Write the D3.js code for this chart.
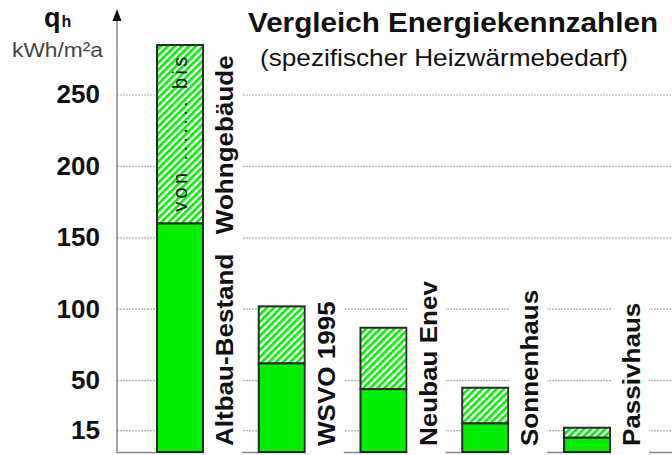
<!DOCTYPE html>
<html>
<head>
<meta charset="utf-8">
<script src="https://cdn.jsdelivr.net/npm/d3@7"></script>
<style>
  html, body { margin: 0; padding: 0; background: #fff; }
  svg { display: block; font-family: Arial, "Liberation Sans", Helvetica, sans-serif; }
</style>
</head>
<body>
<svg id="chart" width="672" height="455"></svg>
<script>
// Building categories (two spaces separate a two-part label)
const categories = ["Altbau-Bestand  Wohngebäude", "WSVO 1995", "Neubau Enev", "Sonnenhaus", "Passivhaus"];
// Lower bound of the specific heating demand, kWh/m²a (solid part)
const lowValues = [160, 62, 44, 20, 10];
// Upper bound of the specific heating demand, kWh/m²a (top of hatched part)
const highValues = [285, 102, 87, 45, 17];
// Y axis tick values
const yTicks = [15, 50, 100, 150, 200, 250];

const W = 672, H = 455;
const axisX = 117, baseY = 452;
const green = "#00ee00", edge = "#2a2a2a";

const svg = d3.select("#chart");

const y = d3.scaleLinear().domain([0, 250]).range([baseY, 95]);
const x = d3.scaleBand().domain(categories).range([157, 610]).paddingInner(0.5475).paddingOuter(0);

// hatch pattern for the "von ... bis" range
const defs = svg.append("defs");
const pat = defs.append("pattern")
  .attr("id", "hatch")
  .attr("patternUnits", "userSpaceOnUse")
  .attr("width", 5).attr("height", 5)
  .attr("patternTransform", "rotate(45)");
pat.append("rect").attr("width", 5).attr("height", 5).attr("fill", "#fff");
pat.append("rect").attr("width", 2.6).attr("height", 5).attr("fill", green);

// dashed gridlines
svg.append("g").selectAll("line").data(yTicks).join("line")
  .attr("x1", axisX).attr("x2", W)
  .attr("y1", d => y(d)).attr("y2", d => y(d))
  .attr("stroke", "#b0b0b0").attr("stroke-width", 1.2)
  .attr("stroke-dasharray", "2,1");

// baseline
svg.append("line")
  .attr("x1", axisX).attr("x2", W).attr("y1", baseY + 0.5).attr("y2", baseY + 0.5)
  .attr("stroke", "#888").attr("stroke-width", 1.5);

// y axis tick labels
const yAxis = d3.axisLeft(y).tickValues(yTicks).tickSize(0).tickPadding(17).tickFormat(d3.format("d"));
const ya = svg.append("g").attr("transform", `translate(${axisX},0)`).call(yAxis);
ya.select(".domain").remove();
ya.selectAll("text")
  .attr("font-family", "Arial, 'Liberation Sans', sans-serif")
  .attr("font-size", 26).attr("font-weight", "bold").attr("fill", "#111")
  .attr("dy", "0.3em");

// y axis line with arrow
svg.append("line")
  .attr("x1", axisX).attr("x2", axisX).attr("y1", 16).attr("y2", baseY + 1)
  .attr("stroke", "#888").attr("stroke-width", 1.5);
svg.append("path")
  .attr("d", `M${axisX},9 L${axisX - 4.5},21 L${axisX + 4.5},21 Z`)
  .attr("fill", "#111");

// unit label
const q = svg.append("text").attr("x", 44).attr("y", 27).attr("font-weight", "bold").attr("fill", "#111");
q.append("tspan").attr("font-size", 27).text("q");
q.append("tspan").attr("font-size", 16).attr("dx", 1).text("h");
svg.append("text").attr("x", 12).attr("y", 57)
  .attr("font-size", 21).attr("fill", "#444")
  .attr("textLength", 91).attr("lengthAdjust", "spacingAndGlyphs")
  .text("kWh/m²a");

// title
svg.append("text").attr("x", 248).attr("y", 32)
  .attr("font-size", 27).attr("font-weight", "bold").attr("fill", "#111")
  .attr("textLength", 410).attr("lengthAdjust", "spacingAndGlyphs")
  .text("Vergleich Energiekennzahlen");
svg.append("text").attr("x", 260).attr("y", 66)
  .attr("font-size", 24).attr("fill", "#111")
  .attr("textLength", 368).attr("lengthAdjust", "spacingAndGlyphs")
  .text("(spezifischer Heizwärmebedarf)");

// bars
const bars = svg.append("g").selectAll("g").data(categories).join("g");
bars.append("rect")
  .attr("x", d => x(d)).attr("width", x.bandwidth())
  .attr("y", (d, i) => y(highValues[i]))
  .attr("height", (d, i) => y(lowValues[i]) - y(highValues[i]))
  .attr("fill", "url(#hatch)").attr("stroke", edge).attr("stroke-width", 2);
bars.append("rect")
  .attr("x", d => x(d)).attr("width", x.bandwidth())
  .attr("y", (d, i) => y(lowValues[i]))
  .attr("height", (d, i) => y(0) - y(lowValues[i]))
  .attr("fill", green).attr("stroke", edge).attr("stroke-width", 2);

// rotated category labels on white strips (glyphs slightly stretched along the text)
const labels = svg.append("g").selectAll("g").data(categories).join("g")
  .attr("transform", d => `translate(${x(d) + x.bandwidth() + 30},${baseY - 6}) rotate(-90) scale(1.085,1)`);
labels.append("rect").attr("fill", "#fff");
const ltext = labels.append("text")
  .attr("font-size", 24).attr("font-weight", "bold").attr("fill", "#111");
ltext.each(function (d) {
  const parts = d.split(/\s{2,}/);
  const t = d3.select(this);
  parts.forEach((p, k) => {
    t.append("tspan").attr("dx", k ? 18 : 0).text(p);
  });
});
labels.each(function () {
  const g = d3.select(this);
  const bb = g.select("text").node().getBBox();
  g.select("rect")
    .attr("x", -8).attr("width", bb.width + 12)
    .attr("y", -29).attr("height", 38);
});

// range annotation inside the first hatched bar
const c0 = categories[0];
const midY = (y(highValues[0]) + y(lowValues[0])) / 2;
svg.append("text")
  .attr("transform", `translate(${x(c0) + x.bandwidth() / 2 + 7},${midY}) rotate(-90)`)
  .attr("text-anchor", "middle")
  .attr("font-size", 20).attr("fill", "#111")
  .attr("textLength", 155).attr("lengthAdjust", "spacing")
  .text("von ....... bis");
</script>
</body>
</html>
